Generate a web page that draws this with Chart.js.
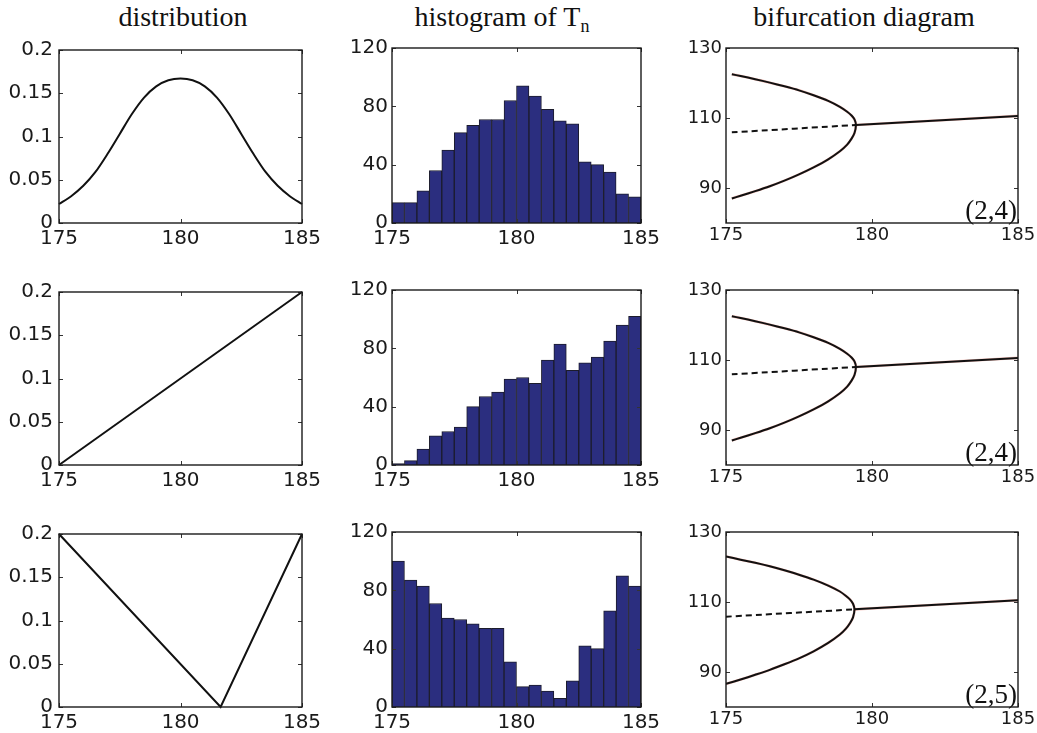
<!DOCTYPE html>
<html>
<head>
<meta charset="utf-8">
<script src="https://cdn.jsdelivr.net/npm/chart.js@4.4.0/dist/chart.umd.min.js"></script>
<style>
  body { margin: 0; background: #fff; }
  #page { position: relative; width: 1037px; height: 733px; overflow: hidden; background: #fff; }
  #page canvas { position: absolute; }
  .title { position: absolute; top: 3px; width: 400px; text-align: center; color: #111;
           font-family: 'Liberation Serif', 'Times New Roman', serif; font-size: 28px; line-height: 27px; }
  .title sub { font-size: 18px; vertical-align: -6px; line-height: 0; }
</style>
</head>
<body>
<div id="page">
  <div class="title" style="left:-17px">distribution</div>
  <div class="title" style="left:302px">histogram of T<sub>n</sub></div>
  <div class="title" style="left:664px">bifurcation diagram</div>
</div>
<script>
// tick values
const xTicks = [175, 180, 185];
const distTicks = [0, 0.05, 0.1, 0.15, 0.2];
const histTicks = [0, 40, 80, 120];
const bifTicks = [90, 110, 130];

// distribution column
const gaussX = [175, 175.5, 176, 176.5, 177, 177.5, 178, 178.5, 179, 179.5, 180,
                180.5, 181, 181.5, 182, 182.5, 183, 183.5, 184, 184.5, 185];
const gaussY = [0.022, 0.031, 0.043, 0.059, 0.080, 0.103, 0.126, 0.145, 0.158, 0.165, 0.167,
                0.165, 0.158, 0.145, 0.126, 0.103, 0.080, 0.059, 0.043, 0.031, 0.022];
const rampX = [175, 185];
const rampY = [0, 0.2];
const vShapeX = [175, 181.65, 185];
const vShapeY = [0.2, 0, 0.2];

// histogram column (20 bins of width 0.5)
const binCenters = [175.25, 175.75, 176.25, 176.75, 177.25, 177.75, 178.25, 178.75, 179.25, 179.75,
                    180.25, 180.75, 181.25, 181.75, 182.25, 182.75, 183.25, 183.75, 184.25, 184.75];
const histNormal = [14, 14, 22, 36, 50, 62, 67, 71, 71, 84, 94, 87, 78, 70, 68, 42, 40, 35, 20, 18];
const histRamp = [1, 3, 11, 20, 23, 26, 40, 47, 50, 59, 60, 56, 72, 83, 65, 70, 74, 85, 96, 102];
const histV = [100, 87, 83, 71, 61, 60, 57, 54, 54, 31, 14, 15, 11, 6, 18, 42, 40, 66, 90, 83];

// bifurcation column, rows 1 and 2: fold branch runs from the upper end, round the tip, to the lower end
const foldX = [175.2, 175.5, 176, 176.5, 177, 177.5, 178, 178.5, 178.9, 179.15, 179.3, 179.4, 179.45,
               179.4, 179.3, 179.15, 178.9, 178.5, 178, 177.5, 177, 176.5, 176, 175.5, 175.2];
const foldY = [122.5, 122.0, 121.1, 120.1, 119.05, 117.9, 116.5, 114.9, 113.2, 111.8, 110.7, 109.6, 108.0,
               105.7, 104.1, 102.4, 100.5, 98.2, 95.9, 93.9, 92.1, 90.5, 89.1, 87.8, 87.0];
const unstableX = [175.2, 179.45];
const unstableY = [105.9, 108.0];
const stableX = [179.45, 185];
const stableY = [108.0, 110.6];

// bifurcation column, row 3
const foldX3 = [175, 175.5, 176, 176.5, 177, 177.5, 178, 178.5, 178.9, 179.1, 179.25, 179.35, 179.4,
                179.35, 179.25, 179.1, 178.9, 178.5, 178, 177.5, 177, 176.5, 176, 175.5, 175];
const foldY3 = [123.0, 122.1, 121.2, 120.2, 119.05, 117.8, 116.4, 114.7, 113.0, 111.8, 110.7, 109.5, 107.9,
                105.6, 104.0, 102.3, 100.7, 98.3, 95.9, 93.9, 92.2, 90.6, 89.2, 87.85, 86.6];
const unstableX3 = [175, 179.4];
const unstableY3 = [105.8, 107.9];
const stableX3 = [179.4, 185];
const stableY3 = [107.9, 110.5];

const bifNotes = ['(2,4)', '(2,4)', '(2,5)'];

// panel boxes on the page
const colBox = [[59, 302], [392, 641], [726, 1018]];
const rowBox = [[48, 223], [290, 465], [532, 707]];
const yAxisW = [58, 58, 56];
const yPad = [6, 4, 4];
const xPad = [4, 4, 2];
const tickSize = [20, 20, 18];
const PAD_TOP = 16, PAD_RIGHT = 24, X_AXIS_H = 36;

function pts(xs, ys) {
  return xs.map((x, i) => ({ x: x, y: ys[i] }));
}

// box around the plot, MATLAB style inward ticks, corner note
const framePlugin = {
  id: 'frame',
  afterDatasetsDraw(chart, args, opts) {
    const ctx = chart.ctx, a = chart.chartArea;
    const sx = chart.scales.x, sy = chart.scales.y;
    ctx.save();
    ctx.strokeStyle = '#333';
    ctx.lineWidth = 1;
    sx.ticks.forEach(t => {
      const px = Math.round(sx.getPixelForValue(t.value)) + 0.5;
      ctx.beginPath();
      ctx.moveTo(px, a.bottom); ctx.lineTo(px, a.bottom - 4);
      ctx.moveTo(px, a.top); ctx.lineTo(px, a.top + 4);
      ctx.stroke();
    });
    sy.ticks.forEach(t => {
      const py = Math.round(sy.getPixelForValue(t.value)) + 0.5;
      ctx.beginPath();
      ctx.moveTo(a.left, py); ctx.lineTo(a.left + 4, py);
      ctx.moveTo(a.right, py); ctx.lineTo(a.right - 4, py);
      ctx.stroke();
    });
    ctx.strokeStyle = '#1a1a1a';
    ctx.lineWidth = 1.4;
    ctx.strokeRect(a.left, a.top, a.right - a.left, a.bottom - a.top);
    if (opts.note) {
      ctx.font = '27px "Liberation Serif", serif';
      ctx.fillStyle = '#111';
      ctx.textAlign = 'right';
      ctx.textBaseline = 'alphabetic';
      ctx.fillText(opts.note, a.right - 1, a.bottom - 4);
    }
    ctx.restore();
  }
};

function makeScales(col, yMin, yMax, yTicks) {
  const font = { family: 'DejaVu Sans', size: tickSize[col] };
  return {
    x: {
      type: 'linear', min: 175, max: 185, offset: false,
      grid: { display: false, drawTicks: false }, border: { display: false },
      afterBuildTicks: s => { s.ticks = xTicks.map(v => ({ value: v })); },
      afterFit: s => { s.height = X_AXIS_H; },
      ticks: { color: '#1a1a1a', font: font, padding: xPad[col], maxRotation: 0, autoSkip: false,
               callback: v => String(v) }
    },
    y: {
      type: 'linear', min: yMin, max: yMax,
      grid: { display: false, drawTicks: false }, border: { display: false },
      afterBuildTicks: s => { s.ticks = yTicks.map(v => ({ value: v })); },
      afterFit: s => { s.width = yAxisW[col]; },
      ticks: { color: '#1a1a1a', font: font, padding: yPad[col], autoSkip: false,
               callback: v => String(v) }
    }
  };
}

function makePanel(col, row, type, datasets, yMin, yMax, yTicks, note) {
  const w = yAxisW[col] + (colBox[col][1] - colBox[col][0]) + PAD_RIGHT;
  const h = PAD_TOP + (rowBox[row][1] - rowBox[row][0]) + X_AXIS_H;
  const canvas = document.createElement('canvas');
  canvas.width = w; canvas.height = h;
  canvas.style.width = w + 'px'; canvas.style.height = h + 'px';
  canvas.style.left = (colBox[col][0] - yAxisW[col]) + 'px';
  canvas.style.top = (rowBox[row][0] - PAD_TOP) + 'px';
  document.getElementById('page').appendChild(canvas);

  new Chart(canvas.getContext('2d'), {
    type: type,
    data: { datasets: datasets },
    options: {
      responsive: false,
      animation: false,
      devicePixelRatio: 1,
      layout: { padding: { top: PAD_TOP, right: PAD_RIGHT, left: 0, bottom: 0 } },
      scales: makeScales(col, yMin, yMax, yTicks),
      plugins: { legend: { display: false }, tooltip: { enabled: false }, frame: { note: note } }
    },
    plugins: [framePlugin]
  });
}

function curve(data, tension) {
  return { data: data, borderColor: '#111', borderWidth: 2, pointRadius: 0, clip: false, tension: tension };
}

function histBars(values) {
  return {
    data: pts(binCenters, values),
    backgroundColor: '#2B2E7F',
    borderColor: '#1c1c2c',
    borderWidth: 1,
    barPercentage: 1,
    categoryPercentage: 1
  };
}

function bifSets(fx, fy, dx, dy, sx, sy) {
  const black = { borderColor: '#111', borderWidth: 2, pointRadius: 0, tension: 0.25 };
  const red = { borderColor: 'rgba(230,80,60,0.35)', borderWidth: 2.6, pointRadius: 0, tension: 0.25 };
  return [
    Object.assign({ data: pts(fx, fy) }, black),
    Object.assign({ data: pts(sx, sy) }, black),
    Object.assign({ data: pts(dx, dy), borderDash: [6, 4] }, black),
    Object.assign({ data: pts(fx, fy) }, red),
    Object.assign({ data: pts(sx, sy) }, red)
  ];
}

// column 1: distributions
makePanel(0, 0, 'line', [curve(pts(gaussX, gaussY), 0.3)], 0, 0.2, distTicks);
makePanel(0, 1, 'line', [curve(pts(rampX, rampY), 0)], 0, 0.2, distTicks);
makePanel(0, 2, 'line', [curve(pts(vShapeX, vShapeY), 0)], 0, 0.2, distTicks);

// column 2: histograms
makePanel(1, 0, 'bar', [histBars(histNormal)], 0, 120, histTicks);
makePanel(1, 1, 'bar', [histBars(histRamp)], 0, 120, histTicks);
makePanel(1, 2, 'bar', [histBars(histV)], 0, 120, histTicks);

// column 3: bifurcation diagrams
makePanel(2, 0, 'line', bifSets(foldX, foldY, unstableX, unstableY, stableX, stableY), 80, 130, bifTicks, bifNotes[0]);
makePanel(2, 1, 'line', bifSets(foldX, foldY, unstableX, unstableY, stableX, stableY), 80, 130, bifTicks, bifNotes[1]);
makePanel(2, 2, 'line', bifSets(foldX3, foldY3, unstableX3, unstableY3, stableX3, stableY3), 80, 130, bifTicks, bifNotes[2]);
</script>
</body>
</html>
